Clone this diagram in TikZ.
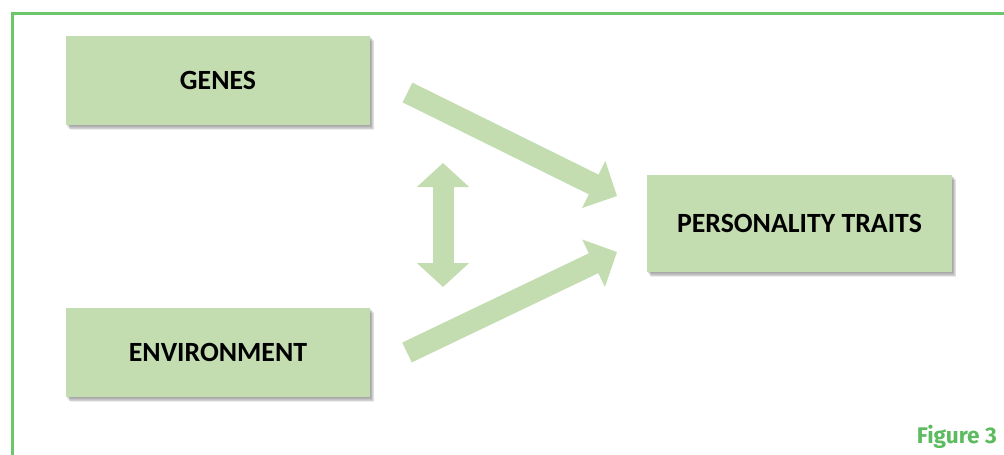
\documentclass[tikz,border=0pt]{standalone}
\usepackage{fontspec}
\setmainfont{Carlito}
\newfontfamily\figfont{Fira Sans}
\usetikzlibrary{arrows.meta,backgrounds}
\definecolor{boxgreen}{HTML}{C3DDB1}
\definecolor{framegreen}{HTML}{6CC66A}
\definecolor{labelgreen}{HTML}{5CBB5E}
\tikzset{
  box/.style={fill=boxgreen, minimum width=304pt, minimum height=89pt, inner sep=0pt,
    font=\fontsize{27.8}{32}\selectfont\bfseries, text=black},
  fat/.style={draw=boxgreen, line width=22pt, -{Triangle[width=51pt,length=26pt]}},
  fatboth/.style={draw=boxgreen, line width=21pt, {Triangle[width=51pt,length=24pt]}-{Triangle[width=51pt,length=24pt]}},
}
\newcommand{\softshadow}[1]{%
  \foreach \d in {1,2,3,4,5,6}{%
    \fill[black, opacity=0.065] ([xshift=\d*0.6pt+0.3pt, yshift=-\d*0.75pt-0.3pt]#1.south west) rectangle ([xshift=\d*0.6pt+0.3pt, yshift=-\d*0.75pt-0.3pt]#1.north east);
  }}
\begin{document}
\begin{tikzpicture}[x=1pt, y=-1pt]
\useasboundingbox (0,0) rectangle (1004,455);
\node[box] (genes) at (218,80.5) {GENES};
\node[box] (env) at (218,352.5) {ENVIRONMENT};
\node[box, minimum width=305pt, minimum height=97pt] (pers) at (799.5,223.5) {PERSONALITY TRAITS};
\begin{scope}[on background layer]
\fill[white] (0,0) rectangle (1004,455);
\softshadow{genes}
\softshadow{env}
\softshadow{pers}
\end{scope}
\begin{scope}
\clip (0,0) rectangle (1004,455);
\draw[framegreen, line width=2.5pt] (12.5,13.5) rectangle (1012,465);
\end{scope}
% arrows
\coordinate (gtail) at (407.5,92.5);
\coordinate (gtip) at (617,196);
\coordinate (etail) at (407,352.5);
\coordinate (etip) at (617,252);
\coordinate (ltop) at (443,163);
\coordinate (lbot) at (443,287);
\draw[fat] (gtail) -- (gtip);
\draw[fat] (etail) -- (etip);
\draw[fatboth] (ltop) -- (lbot);
\node[anchor=base east, text=labelgreen, font=\figfont\fontsize{22.6}{26}\selectfont\bfseries, inner sep=0pt] (fig) at (997,443) {Figure 3};
\end{tikzpicture}
\end{document}
